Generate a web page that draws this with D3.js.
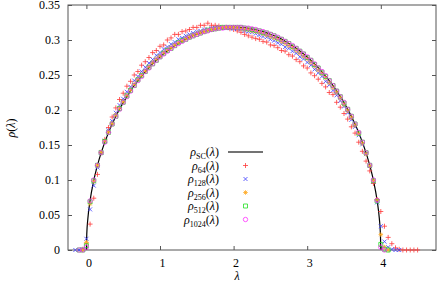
<!doctype html>
<html lang="en">
<head>
<meta charset="UTF-8">
<title>Semicircle law</title>
<script src="https://cdn.jsdelivr.net/npm/d3@7"></script>
<style>
body { margin: 0; background: #fff; }
svg { display: block; }
</style>
</head>
<body>
<div id="plot"></div>
<script>

// eigenvalue grid of the histograms
var lam = [-0.15, -0.1, -0.05,
	0, 0.05, 0.1, 0.15, 0.2, 0.25, 0.3, 0.35, 0.4, 0.45, 0.5, 0.55, 0.6, 0.65, 0.7, 0.75, 0.8, 0.85, 0.9, 0.95,
	1, 1.05, 1.1, 1.15, 1.2, 1.25, 1.3, 1.35, 1.4, 1.45, 1.5, 1.55, 1.6, 1.65, 1.7, 1.75, 1.8, 1.85, 1.9, 1.95,
	2, 2.05, 2.1, 2.15, 2.2, 2.25, 2.3, 2.35, 2.4, 2.45, 2.5, 2.55, 2.6, 2.65, 2.7, 2.75, 2.8, 2.85, 2.9, 2.95,
	3, 3.05, 3.1, 3.15, 3.2, 3.25, 3.3, 3.35, 3.4, 3.45, 3.5, 3.55, 3.6, 3.65, 3.7, 3.75, 3.8, 3.85, 3.9, 3.95,
	4, 4.05, 4.1, 4.15, 4.2, 4.25, 4.3, 4.35, 4.4, 4.45, 4.5];

var rho64 = [null, null, 0.001,
	0.010, 0.037, 0.074, 0.108, 0.139, 0.158, 0.175, 0.190, 0.203, 0.215, 0.224, 0.234, 0.241, 0.250, 0.255, 0.264, 0.269, 0.275, 0.282, 0.285,
	0.291, 0.293, 0.300, 0.303, 0.308, 0.308, 0.312, 0.313, 0.315, 0.318, 0.318, 0.321, 0.321, 0.324, 0.321, 0.321, 0.320, 0.318, 0.318, 0.316,
	0.315, 0.313, 0.311, 0.308, 0.306, 0.304, 0.302, 0.301, 0.298, 0.297, 0.293, 0.292, 0.289, 0.285, 0.284, 0.279, 0.277, 0.272, 0.269, 0.263,
	0.260, 0.253, 0.249, 0.244, 0.238, 0.233, 0.225, 0.222, 0.211, 0.204, 0.195, 0.187, 0.176, 0.167, 0.154, 0.141, 0.127, 0.113, 0.095, 0.072,
	0.055, 0.034, 0.018, 0.009, 0.003, 0.001, 0, 0, 0, 0, 0];

var rho128 = [0, 0, 0.001,
	0.016, 0.058, 0.092, 0.118, 0.139, 0.156, 0.171, 0.184, 0.196, 0.207, 0.216, 0.226, 0.233, 0.242, 0.248, 0.255, 0.261, 0.267, 0.272, 0.278,
	0.282, 0.287, 0.290, 0.294, 0.297, 0.301, 0.303, 0.306, 0.308, 0.310, 0.312, 0.313, 0.315, 0.315, 0.317, 0.317, 0.318, 0.317, 0.317, 0.317,
	0.316, 0.316, 0.315, 0.313, 0.312, 0.311, 0.309, 0.307, 0.305, 0.304, 0.301, 0.299, 0.296, 0.294, 0.290, 0.288, 0.284, 0.281, 0.276, 0.273,
	0.268, 0.264, 0.258, 0.253, 0.248, 0.241, 0.236, 0.228, 0.221, 0.213, 0.205, 0.196, 0.186, 0.176, 0.164, 0.151, 0.137, 0.120, 0.098, 0.068,
	0.034, 0.012, 0.004, 0.001, 0, 0, null, null, null, null, null];

var rho256 = [null, null, 0,
	0.011, 0.066, 0.098, 0.121, 0.140, 0.156, 0.169, 0.181, 0.193, 0.203, 0.212, 0.221, 0.229, 0.237, 0.244, 0.250, 0.256, 0.262, 0.268, 0.273,
	0.277, 0.282, 0.286, 0.289, 0.293, 0.296, 0.299, 0.302, 0.304, 0.307, 0.309, 0.311, 0.312, 0.314, 0.315, 0.316, 0.317, 0.318, 0.318, 0.318,
	0.318, 0.317, 0.316, 0.315, 0.315, 0.313, 0.312, 0.311, 0.309, 0.307, 0.305, 0.303, 0.301, 0.298, 0.295, 0.292, 0.289, 0.285, 0.281, 0.277,
	0.273, 0.268, 0.263, 0.257, 0.252, 0.246, 0.239, 0.232, 0.225, 0.217, 0.208, 0.199, 0.189, 0.178, 0.166, 0.152, 0.137, 0.120, 0.099, 0.072,
	0.022, 0.004, 0, null, null, null, null, null, null, null, null];

var rho512 = [null, 0, 0,
	0.006, 0.069, 0.099, 0.121, 0.139, 0.155, 0.168, 0.180, 0.191, 0.202, 0.211, 0.220, 0.228, 0.235, 0.243, 0.249, 0.255, 0.261, 0.266, 0.271,
	0.276, 0.281, 0.285, 0.288, 0.292, 0.296, 0.299, 0.301, 0.304, 0.306, 0.308, 0.310, 0.312, 0.314, 0.315, 0.316, 0.317, 0.318, 0.318, 0.318,
	0.318, 0.318, 0.318, 0.317, 0.316, 0.315, 0.314, 0.313, 0.311, 0.310, 0.308, 0.306, 0.303, 0.301, 0.298, 0.295, 0.291, 0.288, 0.284, 0.280,
	0.275, 0.271, 0.265, 0.260, 0.254, 0.248, 0.242, 0.235, 0.227, 0.219, 0.210, 0.201, 0.191, 0.180, 0.167, 0.154, 0.139, 0.121, 0.099, 0.070,
	0.008, 0.001, 0, null, null, null, null, null, null, null, null];

var rho1024 = [null, 0, 0,
	0.004, 0.070, 0.100, 0.121, 0.139, 0.154, 0.168, 0.180, 0.191, 0.201, 0.211, 0.219, 0.227, 0.235, 0.242, 0.248, 0.255, 0.260, 0.266, 0.271,
	0.276, 0.280, 0.284, 0.288, 0.292, 0.295, 0.298, 0.301, 0.304, 0.306, 0.308, 0.310, 0.312, 0.313, 0.315, 0.316, 0.317, 0.317, 0.318, 0.318,
	0.318, 0.318, 0.318, 0.317, 0.317, 0.316, 0.315, 0.313, 0.312, 0.310, 0.308, 0.306, 0.304, 0.301, 0.298, 0.295, 0.292, 0.288, 0.284, 0.280,
	0.276, 0.271, 0.266, 0.260, 0.255, 0.249, 0.242, 0.235, 0.227, 0.219, 0.211, 0.201, 0.191, 0.180, 0.168, 0.154, 0.139, 0.121, 0.100, 0.071,
	0.004, 0, null, null, null, null, null, null, null, null, null];

// semicircle curve
var scLam = [0, 0.005, 0.02, 0.05, 0.1, 0.15, 0.2, 0.3, 0.4, 0.5, 0.6, 0.7, 0.8, 0.9, 1.0, 1.1, 1.2, 1.3, 1.4, 1.5, 1.6, 1.7, 1.8, 1.9,
	2.0, 2.1, 2.2, 2.3, 2.4, 2.5, 2.6, 2.7, 2.8, 2.9, 3.0, 3.1, 3.2, 3.3, 3.4, 3.5, 3.6, 3.7, 3.8, 3.85, 3.9, 3.95, 3.98, 3.995, 4.0];
var scRho = [0, 0.0225, 0.0449, 0.0707, 0.0994, 0.1209, 0.1388, 0.1677, 0.1910, 0.2105, 0.2273, 0.2419, 0.2546, 0.2658, 0.2757, 0.2843, 0.2917, 0.2982, 0.3037, 0.3082, 0.3119, 0.3147, 0.3167, 0.3179,
	0.3183, 0.3179, 0.3167, 0.3147, 0.3119, 0.3082, 0.3037, 0.2982, 0.2917, 0.2843, 0.2757, 0.2658, 0.2546, 0.2419, 0.2273, 0.2105, 0.1910, 0.1677, 0.1388, 0.1209, 0.0994, 0.0707, 0.0449, 0.0225, 0];

var xTicks = [0, 1, 2, 3, 4];
var yTicks = [0, 0.05, 0.1, 0.15, 0.2, 0.25, 0.3, 0.35];
var legendSubs = ["SC", "64", "128", "256", "512", "1024"];

var width = 437;
var height = 286;
var plotLeft = 68, plotRight = 436, plotTop = 5, plotBottom = 250;
var serif = "'Liberation Serif', serif";

var svg = d3.select("#plot").append("svg")
	.attr("width", width)
	.attr("height", height)
	.attr("font-family", serif);

var xScale = d3.scaleLinear().domain([-0.25, 4.75]).range([plotLeft, plotRight]);
var yScale = d3.scaleLinear().domain([0, 0.35]).range([plotBottom, plotTop]);

// frame with inward ticks on all four sides
var frame = svg.append("g");

var xAxis = frame.append("g")
	.attr("transform", "translate(0," + plotBottom + ")")
	.call(d3.axisBottom(xScale).tickValues(xTicks).tickSize(-4).tickPadding(8).tickFormat(d3.format("d")));
frame.append("g")
	.attr("transform", "translate(0," + plotTop + ")")
	.call(d3.axisTop(xScale).tickValues(xTicks).tickSize(-4).tickFormat(""));
frame.append("g")
	.attr("transform", "translate(" + plotLeft + ",0)")
	.call(d3.axisLeft(yScale).tickValues(yTicks).tickSize(-4).tickPadding(8).tickFormat(function (d) { return String(+d.toFixed(2)); }));
frame.append("g")
	.attr("transform", "translate(" + plotRight + ",0)")
	.call(d3.axisRight(yScale).tickValues(yTicks).tickSize(-4).tickFormat(""));

frame.selectAll(".domain").remove();
frame.selectAll("g").attr("font-family", serif).attr("font-size", 12);
frame.selectAll(".tick line").attr("stroke", "#555");
frame.selectAll("text").attr("fill", "#000");
xAxis.selectAll("text").attr("dx", 2);

frame.append("rect")
	.attr("x", plotLeft)
	.attr("y", plotTop)
	.attr("width", plotRight - plotLeft)
	.attr("height", plotBottom - plotTop)
	.attr("fill", "none")
	.attr("stroke", "#555")
	.attr("stroke-width", 1);

// markers
var shapes = {
	plus: "M-2.5,0H2.5M0,-2.5V2.5",
	cross: "M-2,-2L2,2M-2,2L2,-2",
	star: "M-2.3,0H2.3M0,-2.3V2.3M-1.7,-1.7L1.7,1.7M-1.7,1.7L1.7,-1.7",
	square: "M-2,-2H2V2H-2Z",
	circle: "M2.2,0A2.2,2.2 0 1,1 -2.2,0A2.2,2.2 0 1,1 2.2,0Z"
};

var series = [
	{ values: rho64, shape: "plus", color: "#ff3a3a" },
	{ values: rho128, shape: "cross", color: "#3c3cff" },
	{ values: rho256, shape: "star", color: "#ffaa22" },
	{ values: rho512, shape: "square", color: "#22e022" },
	{ values: rho1024, shape: "circle", color: "#ff30ff" }
];

var line = d3.line()
	.x(function (d, i) { return xScale(scLam[i]); })
	.y(function (d) { return yScale(d); })
	.curve(d3.curveMonotoneX);

svg.append("path")
	.attr("d", line(scRho))
	.attr("fill", "none")
	.attr("stroke", "#000")
	.attr("stroke-width", 1.2);

series.forEach(function (s) {
	var pts = lam.map(function (l, i) { return { x: l, y: s.values[i] }; })
		.filter(function (d) { return d.y !== null; });
	svg.append("g").selectAll("path")
		.data(pts)
		.enter().append("path")
		.attr("transform", function (d) { return "translate(" + xScale(d.x) + "," + yScale(d.y) + ")"; })
		.attr("d", shapes[s.shape])
		.attr("fill", "none")
		.attr("stroke", s.color)
		.attr("stroke-width", 0.8);
});

// legend
var legend = svg.append("g");
var rowY = d3.scaleLinear().domain([0, 5]).range([152, 219.5]);

legendSubs.forEach(function (sub, i) {
	var y = rowY(i);
	var t = legend.append("text")
		.attr("x", 219)
		.attr("y", y + 4)
		.attr("text-anchor", "end")
		.attr("font-size", 12);
	t.append("tspan").attr("font-style", "italic").text("ρ");
	t.append("tspan").attr("font-size", 8).attr("dy", 3).text(sub);
	t.append("tspan").attr("dy", -3).text("(");
	t.append("tspan").attr("font-style", "italic").text("λ");
	t.append("tspan").text(")");

	if (i === 0) {
		legend.append("line")
			.attr("x1", 228).attr("x2", 263)
			.attr("y1", y).attr("y2", y)
			.attr("stroke", "#444")
			.attr("stroke-width", 1.5);
	} else {
		var s = series[i - 1];
		legend.append("path")
			.attr("transform", "translate(245.5," + y + ")")
			.attr("d", shapes[s.shape])
			.attr("fill", "none")
			.attr("stroke", s.color)
			.attr("stroke-width", 0.8);
	}
});

// axis titles
svg.append("text")
	.attr("transform", "translate(15,128) rotate(-90)")
	.attr("text-anchor", "middle")
	.attr("font-size", 12)
	.html('<tspan font-style="italic">ρ</tspan>(<tspan font-style="italic">λ</tspan>)');

svg.append("text")
	.attr("x", 237)
	.attr("y", 280)
	.attr("text-anchor", "middle")
	.attr("font-size", 12)
	.attr("font-style", "italic")
	.text("λ");

</script>
</body>
</html>
